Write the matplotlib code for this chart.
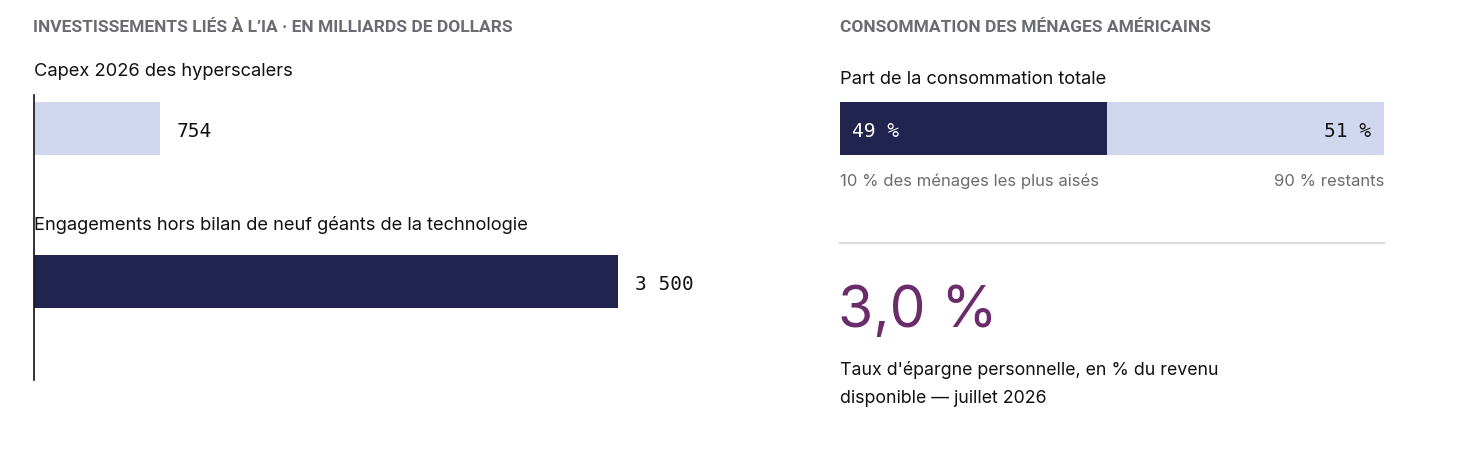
import matplotlib
matplotlib.use("Agg")
import matplotlib.pyplot as plt

# data
invest_labels = ["Capex 2026 des hyperscalers",
                 "Engagements hors bilan de neuf géants de la technologie"]
invest_values = [754, 3500]
invest_text = ["754", "3 500"]
invest_colors = ["#cfd6ee", "#222450"]

conso_parts = [49, 51]
conso_text = ["49 %", "51 %"]
conso_names = ["10 % des ménages les plus aisés", "90 % restants"]
conso_colors = ["#222450", "#cfd6ee"]

epargne_value = "3,0 %"
epargne_text = "Taux d'épargne personnelle, en % du revenu\ndisponible — juillet 2026"

W, H = 1460, 470
fig = plt.figure(figsize=(W / 100, H / 100), dpi=100)
fig.patch.set_facecolor("white")


def box(x0, y0, x1, y1):
    # pixel box (top-left origin) -> figure fraction rect
    return [x0 / W, 1 - y1 / H, (x1 - x0) / W, (y1 - y0) / H]


def ftext(x, y, s, **kw):
    fig.text(x / W, 1 - y / H, s, **kw)


sans = "Inter"
mono = "DejaVu Sans Mono"
head_kw = dict(fontsize=12.5, color="#6b6b73", fontweight="semibold", family="Roboto", va="center")

# ---- left panel: AI investments
ftext(33, 27, "INVESTISSEMENTS LIÉS À L’IA · EN MILLIARDS DE DOLLARS", **head_kw)

ax = fig.add_axes(box(34, 95, 618, 380))
pos = [0, 1]
ax.barh(pos, invest_values, height=0.346, color=invest_colors)
ax.set_xlim(0, 3500)
ax.set_ylim(1.644, -0.219)
for s in ["top", "right", "bottom"]:
    ax.spines[s].set_visible(False)
ax.spines["left"].set_linewidth(1.2)
ax.spines["left"].set_color("#111111")
ax.set_xticks([])
ax.set_yticks([])
for p, v, t, lab in zip(pos, invest_values, invest_text, invest_labels):
    ax.annotate(t, (v, p), xytext=(12, -2), textcoords="offset points",
                va="center", ha="left", fontsize=14, family=mono,
                color="#111111", annotation_clip=False)
    ax.text(-2, p - 0.37, lab, va="center", ha="left", fontsize=13.2,
            family=sans, color="#111111", clip_on=False)

# ---- right panel: household consumption
ftext(840, 80, "Part de la consommation totale", fontsize=13.2, family=sans,
      color="#111111", va="center")
ftext(840, 27, "CONSOMMATION DES MÉNAGES AMÉRICAINS", **head_kw)

ax2 = fig.add_axes(box(840, 102, 1384, 155))
left = 0
for v, c in zip(conso_parts, conso_colors):
    ax2.barh(0, v, left=left, height=1, color=c)
    left += v
ax2.set_xlim(0, sum(conso_parts))
ax2.set_ylim(-0.5, 0.5)
ax2.axis("off")
ax2.annotate(conso_text[0], (0, 0), xytext=(9, -2), textcoords="offset points",
             va="center", ha="left", fontsize=14, family=mono, color="white")
ax2.annotate(conso_text[1], (sum(conso_parts), 0), xytext=(-9, -2), textcoords="offset points",
             va="center", ha="right", fontsize=14, family=mono, color="#111111")

ftext(840, 181, conso_names[0], fontsize=12, family=sans, color="#6b6b73", va="center")
ftext(1384, 181, conso_names[1], fontsize=12, family=sans, color="#6b6b73",
      va="center", ha="right")

fig.add_artist(plt.Line2D([840 / W, 1384 / W], [1 - 243 / H, 1 - 243 / H],
                          color="#dcdcdc", linewidth=1.5))

ftext(838, 312, epargne_value, fontsize=41, family=sans, color="#6a2c6a", va="center")
ftext(840, 384, epargne_text, fontsize=12.8, family=sans, color="#111111",
      va="center", linespacing=1.85)

fig.savefig("out.png", dpi=100, facecolor="white")
